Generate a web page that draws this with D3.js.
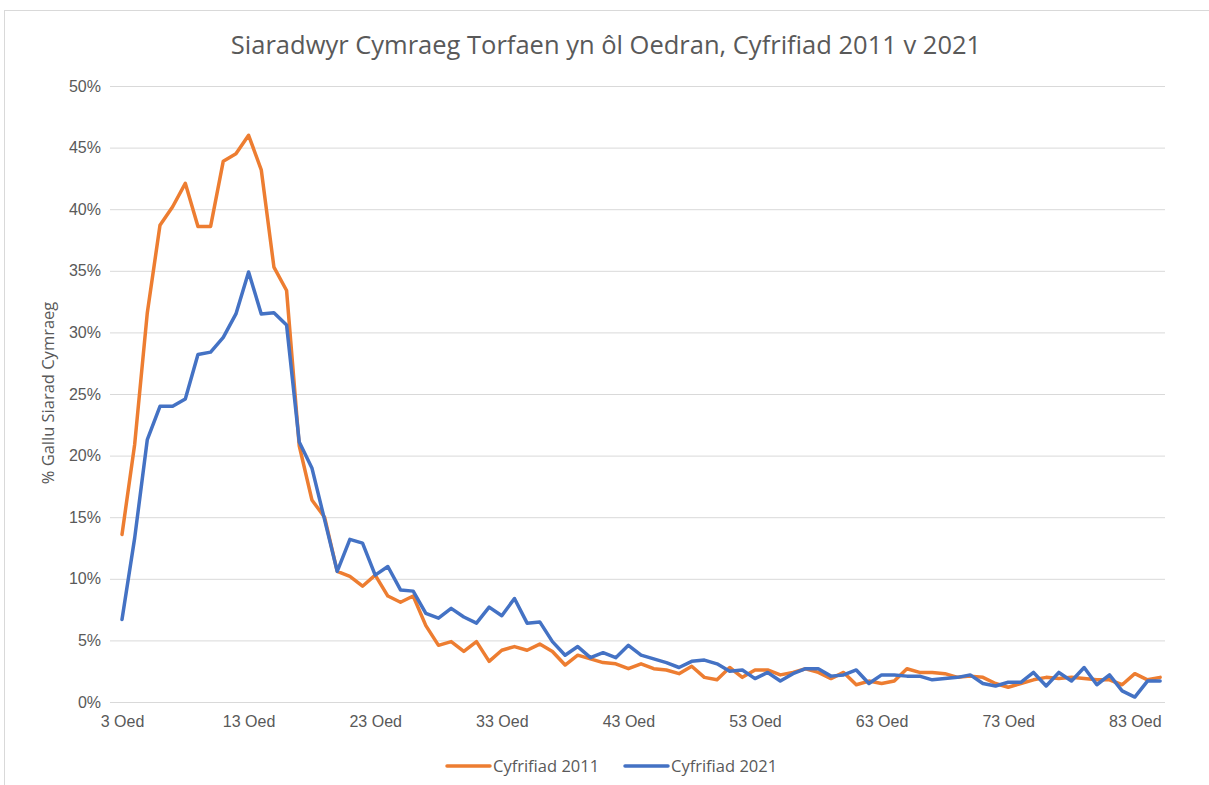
<!DOCTYPE html>
<html>
<head>
<meta charset="utf-8">
<script src="https://cdn.jsdelivr.net/npm/d3@7"></script>
<style>
  body { margin: 0; background: #fff; }
  svg { display: block; font-family: "Open Sans", "Noto Sans", sans-serif; }
</style>
</head>
<body>
<svg id="chart" width="1209" height="785"></svg>
<script>
// ages 3..85
const ages = d3.range(3, 86);
const tickAges = [3, 13, 23, 33, 43, 53, 63, 73, 83];
const yTicks = [0, 5, 10, 15, 20, 25, 30, 35, 40, 45, 50];

const census2011 = [
  13.6, 20.9, 31.6, 38.7, 40.2, 42.1, 38.6, 38.6, 43.9, 44.5,
  46.0, 43.2, 35.3, 33.4, 20.8, 16.4, 15.0, 10.6, 10.2, 9.4,
  10.3, 8.6, 8.1, 8.6, 6.2, 4.6, 4.9, 4.1, 4.9, 3.3,
  4.2, 4.5, 4.2, 4.7, 4.1, 3.0, 3.8, 3.5, 3.2, 3.1,
  2.7, 3.1, 2.7, 2.6, 2.3, 2.9, 2.0, 1.8, 2.8, 2.0,
  2.6, 2.6, 2.2, 2.4, 2.7, 2.4, 1.9, 2.4, 1.4, 1.7,
  1.5, 1.7, 2.7, 2.4, 2.4, 2.3, 2.0, 2.1, 2.0, 1.5,
  1.2, 1.5, 1.8, 2.0, 1.9, 2.0, 1.9, 1.8, 1.8, 1.4,
  2.3, 1.8, 2.0
];

const census2021 = [
  6.7, 13.3, 21.3, 24.0, 24.0, 24.6, 28.2, 28.4, 29.6, 31.5,
  34.9, 31.5, 31.6, 30.6, 21.1, 19.0, 14.8, 10.6, 13.2, 12.9,
  10.3, 11.0, 9.1, 9.0, 7.2, 6.8, 7.6, 6.9, 6.4, 7.7,
  7.0, 8.4, 6.4, 6.5, 4.9, 3.8, 4.5, 3.6, 4.0, 3.6,
  4.6, 3.8, 3.5, 3.2, 2.8, 3.3, 3.4, 3.1, 2.5, 2.6,
  1.9, 2.4, 1.7, 2.3, 2.7, 2.7, 2.1, 2.2, 2.6, 1.5,
  2.2, 2.2, 2.1, 2.1, 1.8, 1.9, 2.0, 2.2, 1.5, 1.3,
  1.6, 1.6, 2.4, 1.3, 2.4, 1.7, 2.8, 1.4, 2.2, 0.9,
  0.4, 1.7, 1.7
];

const series = [
  { name: 'Cyfrifiad 2011', values: census2011, color: '#ED7D31' },
  { name: 'Cyfrifiad 2021', values: census2021, color: '#4472C4' },
];

const svg = d3.select('#chart');
const margin = { left: 122, right: 44, top: 86, bottom: 83 };
const W = 1209, H = 785;

// chart frame
svg.append('rect')
    .attr('x', 4.5).attr('y', 10.5)
    .attr('width', 1210).attr('height', 780)
    .attr('fill', '#fff')
    .attr('stroke', '#d9d9d9');

const x = d3.scaleLinear()
    .domain([3, 85])
    .range([margin.left, margin.left + 82 * 12.66]);

const y = d3.scaleLinear()
    .domain([0, 50])
    .range([H - margin.bottom, margin.top]);

const plotRight = 1165;

// gridlines + y labels
const yAxis = d3.axisLeft(y)
    .tickValues(yTicks)
    .tickSize(-(plotRight - margin.left + 12))
    .tickPadding(9)
    .tickFormat(d => d + '%');

svg.append('g')
    .attr('transform', `translate(${margin.left - 12},0)`)
    .call(yAxis)
    .call(g => g.select('.domain').remove())
    .call(g => g.selectAll('.tick line').attr('stroke', '#d9d9d9').attr('stroke-width', 1))
    .call(g => g.selectAll('.tick text')
        .attr('fill', '#595959')
        .attr('font-size', 16));

// x axis
const xAxis = d3.axisBottom(x)
    .tickValues(tickAges)
    .tickSize(0)
    .tickPadding(14)
    .tickFormat(d => d + ' Oed');

svg.append('g')
    .attr('transform', `translate(0,${y(0)})`)
    .call(xAxis)
    .call(g => g.select('.domain').remove())
    .call(g => g.selectAll('.tick text')
        .attr('fill', '#595959')
        .attr('font-size', 16));

// lines
const line = d3.line()
    .x((d, i) => x(ages[i]))
    .y(d => y(d));

series.forEach((s) => {
  svg.append('path')
      .datum(s.values)
      .attr('fill', 'none')
      .attr('stroke', s.color)
      .attr('stroke-width', 3.5)
      .attr('stroke-linejoin', 'round')
      .attr('stroke-linecap', 'round')
      .attr('d', line);
});

// title
svg.append('text')
    .attr('x', 606).attr('y', 54)
    .attr('text-anchor', 'middle')
    .attr('fill', '#595959')
    .attr('font-size', 25.5)
    .text('Siaradwyr Cymraeg Torfaen yn ôl Oedran, Cyfrifiad 2011 v 2021');

// y title
svg.append('text')
    .attr('transform', 'translate(54,393) rotate(-90)')
    .attr('text-anchor', 'middle')
    .attr('fill', '#595959')
    .attr('font-size', 16.5)
    .text('% Gallu Siarad Cymraeg');

// legend
const legendX = [447, 625];
const legend = svg.append('g');
series.forEach((s, i) => {
  legend.append('line')
      .attr('x1', legendX[i]).attr('x2', legendX[i] + 43)
      .attr('y1', 766).attr('y2', 766)
      .attr('stroke', s.color)
      .attr('stroke-width', 3.5)
      .attr('stroke-linecap', 'round');
  legend.append('text')
      .attr('x', legendX[i] + 46).attr('y', 772)
      .attr('fill', '#595959')
      .attr('font-size', 16.5)
      .text(s.name);
});
</script>
</body>
</html>
